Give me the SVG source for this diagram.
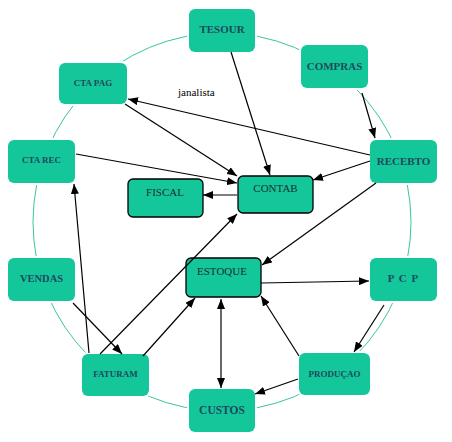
<svg xmlns="http://www.w3.org/2000/svg" width="452" height="442" viewBox="0 0 452 442">
<defs>
<marker id="ah" viewBox="0 0 10 8" refX="10" refY="4" markerWidth="10" markerHeight="8" markerUnits="userSpaceOnUse" orient="auto-start-reverse">
<path d="M0,0 L10,4 L0,8 Z" fill="#000"/>
</marker>
<style>
.n{fill:#14c79b;stroke:#fff;stroke-width:4;paint-order:stroke}
.b{fill:#14c79b;stroke:#000;stroke-width:1.3}
.t{font-family:"Liberation Serif",serif;font-weight:bold;fill:#1c4a5c;text-anchor:middle}
.u{font-family:"Liberation Serif",serif;font-size:11px;fill:#1a2e2e;text-anchor:middle}
.c line{stroke:#000;stroke-width:1.2;marker-end:url(#ah)}
</style>
</defs>
<rect width="452" height="442" fill="#fff"/>
<circle cx="222" cy="222" r="189" fill="none" stroke="#3cc4a0" stroke-width="1"/>
<g id="TESOUR"><rect class="n" x="189" y="9" width="66" height="43" rx="6"/><text class="t" x="222" y="33" font-size="11">TESOUR</text></g>
<g id="COMPRAS"><rect class="n" x="301" y="45" width="67" height="43" rx="6"/><text class="t" x="334.5" y="70" font-size="11">COMPRAS</text></g>
<g id="RECEBTO"><rect class="n" x="370" y="140" width="67" height="43" rx="6"/><text class="t" x="403.5" y="165" font-size="11">RECEBTO</text></g>
<g id="CTAPAG"><rect class="n" x="59" y="63" width="68" height="41" rx="6"/><text class="t" x="93" y="86" font-size="9">CTA PAG</text></g>
<g id="CTAREC"><rect class="n" x="8" y="140" width="67" height="43" rx="6"/><text class="t" x="41.5" y="163" font-size="9">CTA REC</text></g>
<g id="VENDAS"><rect class="n" x="8" y="258" width="67" height="43" rx="6"/><text class="t" x="41.5" y="282" font-size="10.5">VENDAS</text></g>
<g id="PCP"><rect class="n" x="370" y="258" width="67" height="43" rx="6"/><text class="t" x="403.5" y="282" font-size="11" letter-spacing="1">P C P</text></g>
<g id="FATURAM"><rect class="n" x="82" y="354" width="67" height="42" rx="6"/><text class="t" x="115.5" y="377" font-size="9">FATURAM</text></g>
<g id="PRODUCAO"><rect class="n" x="299" y="353" width="71" height="42" rx="6"/><text class="t" x="334.5" y="377" font-size="9">PRODUÇAO</text></g>
<g id="CUSTOS"><rect class="n" x="189" y="389" width="66" height="43" rx="6"/><text class="t" x="222" y="414" font-size="11.5">CUSTOS</text></g>
<g id="FISCAL"><rect class="b" x="128" y="179" width="75" height="38" rx="5"/><text class="u" x="165" y="196">FISCAL</text></g>
<g id="CONTAB"><rect class="b" x="238" y="176" width="75" height="37" rx="5"/><text class="u" x="275.5" y="192">CONTAB</text></g>
<g id="ESTOQUE"><rect class="b" x="186" y="258" width="75" height="39" rx="5"/><text class="u" x="222" y="275">ESTOQUE</text></g>
<text x="178" y="96" font-family="Liberation Serif, serif" font-size="11" fill="#000">janalista</text>
<g class="c" id="connectors">
<line x1="231" y1="52" x2="270" y2="175"/>
<line x1="362" y1="93" x2="375" y2="138"/>
<line x1="370" y1="155" x2="128" y2="99"/>
<line x1="125" y1="104" x2="237" y2="176"/>
<line x1="76" y1="154" x2="237" y2="183"/>
<line x1="370" y1="161" x2="313" y2="180"/>
<line x1="237" y1="195" x2="203" y2="195"/>
<line x1="376" y1="183" x2="262" y2="265"/>
<line x1="100" y1="354" x2="237" y2="214"/>
<line x1="89" y1="353" x2="74" y2="184"/>
<line x1="73" y1="303" x2="122" y2="354"/>
<line x1="143" y1="356" x2="195" y2="298"/>
<line x1="221" y1="299" x2="221" y2="388" marker-start="url(#ah)"/>
<line x1="261" y1="283" x2="369" y2="281"/>
<line x1="384" y1="305" x2="354" y2="352"/>
<line x1="299" y1="356" x2="261" y2="296"/>
<line x1="298" y1="379" x2="255" y2="394"/>
</g>
</svg>
